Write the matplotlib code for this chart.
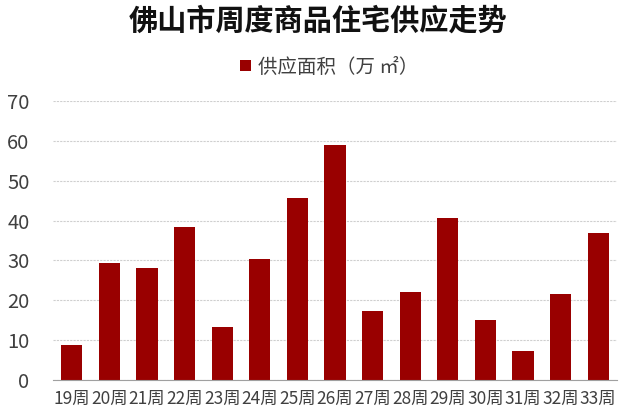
import matplotlib
matplotlib.use("Agg")
import matplotlib.pyplot as plt
import numpy as np

plt.rcParams["font.family"] = ["Noto Sans CJK SC", "DejaVu Sans"]

weeks = ["19周", "20周", "21周", "22周", "23周", "24周", "25周", "26周",
         "27周", "28周", "29周", "30周", "31周", "32周", "33周"]
supply = [8.7, 29.3, 28.2, 38.5, 13.3, 30.3, 45.6, 58.9,
          17.4, 22.1, 40.7, 15.1, 7.2, 21.5, 37.0]

BAR = "#990000"
TXT = "#404040"

fig = plt.figure(figsize=(6.37, 4.2), dpi=100)
ax = fig.add_axes([53 / 637, 40 / 420, 564 / 637, 279 / 420])

x = np.arange(len(weeks))
ax.bar(x, supply, width=0.56, color=BAR, label="供应面积（万 ㎡）", zorder=3)

ax.set_xlim(-0.5, len(weeks) - 0.5)
ax.set_ylim(0, 70)
ax.set_yticks(range(0, 71, 10))
ax.set_xticks(x, weeks)
ax.tick_params(axis="y", length=0, labelsize=14.5, colors=TXT, pad=17)
ax.tick_params(axis="x", length=0, labelsize=12.5, colors=TXT, pad=7)
ax.yaxis.grid(True, linestyle=(0, (2, 1)), color="#cfcfcf", lw=0.8, zorder=0)
for s in ["top", "right", "left"]:
    ax.spines[s].set_visible(False)
ax.spines["bottom"].set_color("#a0a0a0")
ax.spines["bottom"].set_zorder(4)

fig.text(0.5, 0.952, "佛山市周度商品住宅供应走势", ha="center", va="center",
         fontsize=21, fontweight="bold", color="#111111")
ax.legend(loc="center", bbox_to_anchor=(0.49, (380 - 67) / 279), frameon=False,
          fontsize=14, handlelength=0.55, handleheight=0.55, handletextpad=0.4,
          labelcolor=TXT, bbox_transform=ax.transAxes)

fig.savefig("out.png", dpi=100, facecolor="white")
